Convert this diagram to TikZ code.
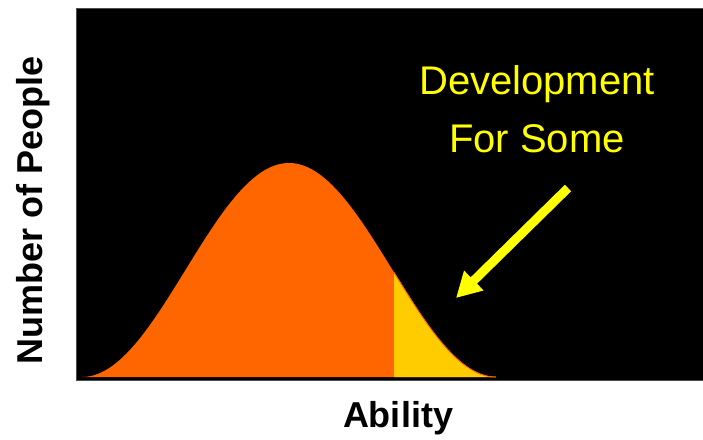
\documentclass[tikz,border=0pt]{standalone}
\usepackage{fontspec}
\setmainfont{Liberation Sans}
\usepackage{tikz}
\usetikzlibrary{arrows.meta}
\definecolor{bellorange}{HTML}{FF6600}
\definecolor{tailyellow}{HTML}{FFCC00}
\definecolor{noteyellow}{HTML}{FFFF00}
\tikzstyle{axislabel}=[font=\fontsize{36}{40}\selectfont\bfseries, text=black, inner sep=0pt]
\tikzstyle{note}=[font=\fontsize{40}{58}\selectfont, text=noteyellow, align=center, inner sep=0pt]
\tikzstyle{arrow}=[draw=noteyellow, line width=9pt, -{Triangle[length=25pt, width=26pt]}]
\tikzstyle{bell}=[domain=82:496, samples=150, smooth]

\begin{document}
\begin{tikzpicture}[x=1pt, y=-1pt]
		   \useasboundingbox (0,0) rectangle (703,439);
		   \begin{scope}
			   \filldraw[fill=black, draw=black!70, line width=1pt] (76,8) rectangle (703,380);
			   \fill[bellorange] plot[bell] (\x, {377-107*(1+cos((\x-289)/207*180))}) -- cycle;
			   \fill[tailyellow] (394,377) -- plot[bell, domain=394:496] (\x, {377-107*(1+cos((\x-289)/207*180))}) -- cycle;
			   \draw[bellorange, line width=1pt] plot[bell, domain=394:496] (\x, {377-107*(1+cos((\x-289)/207*180))});
		   \end{scope}
		   \begin{scope}
			   \node (develop) at (537, 152)[note, anchor=base] {Development\\For Some};
			   \node (ability) at (398, 427)[axislabel, anchor=base] {Ability};
			   \node (people) at (42, 210)[axislabel, rotate=90, anchor=base] {Number of People};
			   \coordinate (tail) at (568, 188);
			   \coordinate (tip) at (456, 298);
		   \end{scope}
		   \begin{scope}
			   \draw [arrow] (tail) -- (tip);
		   \end{scope}
	   \end{tikzpicture}
\end{document}
